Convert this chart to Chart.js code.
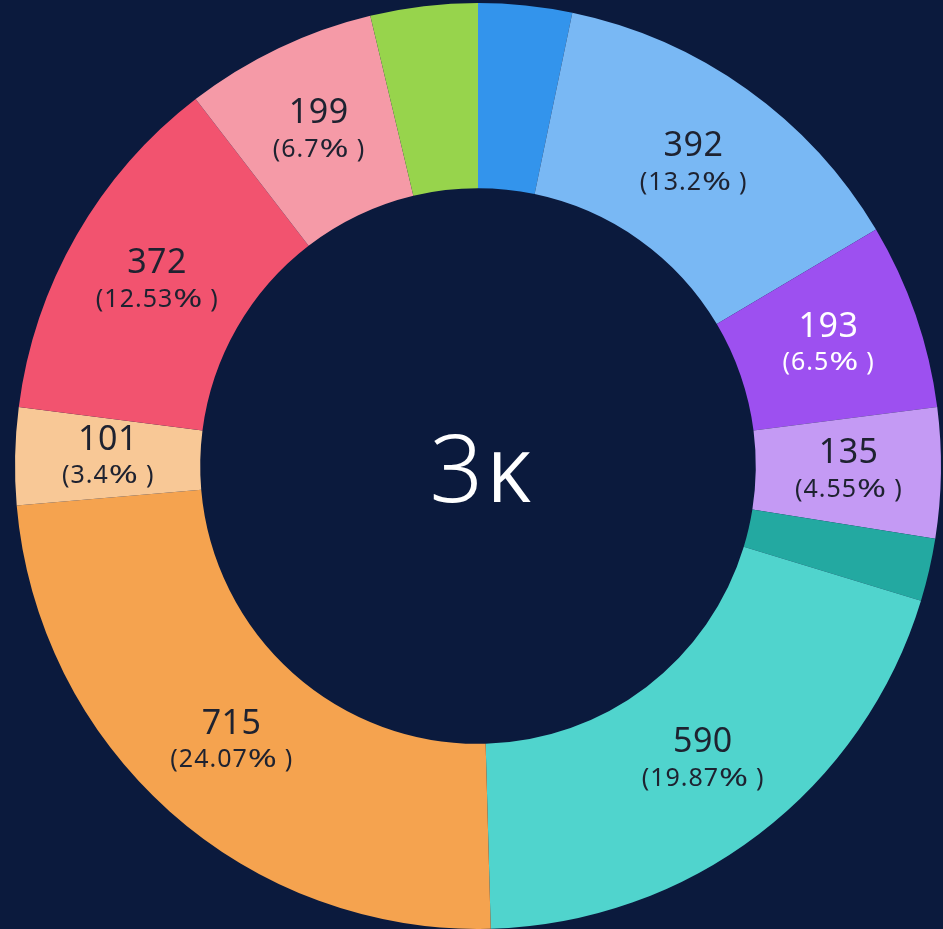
<!DOCTYPE html>
<html>
<head>
<meta charset="utf-8">
<script src="https://cdn.jsdelivr.net/npm/chart.js@4/dist/chart.umd.min.js"></script>
<style>
  html, body { margin: 0; padding: 0; background: #0b1a3d; overflow: hidden; }
  #wrap { width: 943px; height: 929px; position: relative; }
</style>
</head>
<body>
<div id="wrap"><canvas id="c"></canvas></div>
<script>
const categories = ['Segment A','Segment B','Segment C','Segment D','Segment E','Segment F','Segment G','Segment H','Segment I','Segment J','Segment K'];
const values = [97, 392, 193, 135, 65, 590, 715, 101, 372, 199, 111];
const colors = ['#3394ec','#79b8f4','#9d50f0','#c49af4','#23a9a1','#50d4cd','#f5a34f','#f8c896','#f2536f','#f59aa7','#97d44c'];
const labelColors = ['#1e2230','#1e2230','#ffffff','#1e2230','#1e2230','#1e2230','#1e2230','#1e2230','#1e2230','#1e2230','#1e2230'];
const centerMain = '3';
const centerSuffix = 'K';

const FONT = '"Noto Sans", sans-serif';

function fmtPct(v, total) {
  const p = Math.round(v / total * 10000) / 100;
  return String(p) + '%';
}

// glyph layout: returns [{ch, w, scale, after}]
function layoutText(ctx, text, spacing, pctScale, pctGap) {
  const items = [];
  for (const ch of text) {
    const base = ctx.measureText(ch).width;
    const scale = ch === '%' ? pctScale : 1;
    const after = spacing + (ch === '%' ? pctGap : 0);
    items.push({ ch, w: base * scale, scale, after });
  }
  let total = 0;
  items.forEach((it, k) => { total += it.w + (k < items.length - 1 ? it.after : 0); });
  return { items, total };
}

function drawLayout(ctx, lay, x, y) {
  let cx = x - lay.total / 2;
  ctx.textAlign = 'left';
  lay.items.forEach(it => {
    if (it.scale !== 1) {
      ctx.save();
      ctx.translate(cx, y);
      ctx.scale(it.scale, 1);
      ctx.fillText(it.ch, 0, 0);
      ctx.restore();
    } else {
      ctx.fillText(it.ch, cx, y);
    }
    cx += it.w + it.after;
  });
}

const labelPlugin = {
  id: 'sliceLabels',
  afterDatasetsDraw(chart) {
    const ctx = chart.ctx;
    const meta = chart.getDatasetMeta(0);
    const data = chart.data.datasets[0].data;
    const total = data.reduce((a, b) => a + b, 0);
    meta.data.forEach((arc, i) => {
      const pos = arc.tooltipPosition();
      const l1 = String(data[i]);
      const l2 = '(' + fmtPct(data[i], total) + ')';
      ctx.save();
      ctx.font = '400 34px ' + FONT;
      const lay1 = layoutText(ctx, l1, 0.5, 1, 0);
      ctx.font = '400 25px ' + FONT;
      const lay2 = layoutText(ctx, l2, 1, 1.4, 7);
      const w = Math.max(lay1.total, lay2.total) + 8;
      const h = 64 + 8;
      const pts = [[pos.x - w/2, pos.y], [pos.x + w/2, pos.y], [pos.x, pos.y - h/2], [pos.x, pos.y + h/2]];
      const fits = pts.every(p => arc.inRange(p[0], p[1]));
      if (fits) {
        ctx.fillStyle = labelColors[i];
        ctx.textBaseline = 'middle';
        ctx.font = '400 34px ' + FONT;
        drawLayout(ctx, lay1, pos.x, pos.y - 18);
        ctx.font = '400 25px ' + FONT;
        drawLayout(ctx, lay2, pos.x, pos.y + 18);
      }
      ctx.restore();
    });
  }
};

const centerPlugin = {
  id: 'centerText',
  afterDraw(chart) {
    const ctx = chart.ctx;
    const arc = chart.getDatasetMeta(0).data[0];
    if (!arc) return;
    const cx = arc.x, cy = arc.y;
    ctx.save();
    ctx.fillStyle = '#ffffff';
    ctx.textBaseline = 'alphabetic';
    ctx.font = '300 94px ' + FONT;
    const wa = ctx.measureText(centerMain).width;
    ctx.font = '400 70px ' + FONT;
    const wb = ctx.measureText(centerSuffix).width;
    const gap = 4;
    const start = cx + 2 - (wa + wb + gap) / 2;
    const base = cy + 36;
    ctx.textAlign = 'left';
    ctx.font = '300 94px ' + FONT;
    ctx.fillText(centerMain, start, base);
    ctx.font = '400 70px ' + FONT;
    ctx.fillText(centerSuffix, start + wa + gap, base);
    ctx.restore();
  }
};

new Chart(document.getElementById('c'), {
  type: 'doughnut',
  data: {
    labels: categories,
    datasets: [{
      data: values,
      backgroundColor: colors,
      borderWidth: 0,
      hoverOffset: 0
    }]
  },
  options: {
    responsive: true,
    maintainAspectRatio: false,
    animation: false,
    cutout: '60%',
    layout: { padding: { left: 15, right: 2, top: 3, bottom: 0 } },
    plugins: {
      legend: { display: false },
      tooltip: { enabled: false }
    }
  },
  plugins: [labelPlugin, centerPlugin]
});
</script>
</body>
</html>
